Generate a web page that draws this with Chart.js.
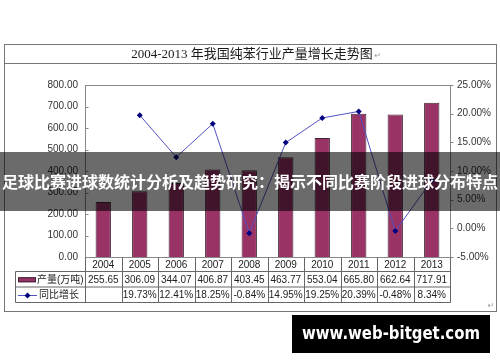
<!DOCTYPE html>
<html lang="zh">
<head>
<meta charset="UTF-8">
<title>2004-2013 年我国纯苯行业产量增长走势图</title>
<script src="https://cdn.jsdelivr.net/npm/chart.js@4.4.1/dist/chart.umd.min.js"></script>
<style>
  html, body { margin: 0; padding: 0; background: #fff; }
  #wrap { width: 500px; height: 362px; }
</style>
</head>
<body>
<div id="wrap"><canvas id="chart" width="500" height="362"></canvas></div>
<script>
// data
const years = ['2004', '2005', '2006', '2007', '2008', '2009', '2010', '2011', '2012', '2013'];
const output = [255.65, 306.09, 344.07, 406.87, 403.45, 463.77, 553.04, 665.80, 662.64, 717.91];
const growth = [null, 19.73, 12.41, 18.25, -0.84, 14.95, 19.25, 20.39, -0.48, 8.34];
const outputTicks = [0, 100, 200, 300, 400, 500, 600, 700, 800];
const growthTicks = [-5, 0, 5, 10, 15, 20, 25];

const title = '2004-2013 年我国纯苯行业产量增长走势图';
const overlayText = '足球比赛进球数统计分析及趋势研究：揭示不同比赛阶段进球分布特点';
const siteText = 'www.web-bitget.com';

const numFont = '10px "Liberation Sans", Arial, sans-serif';
const cjkFont = '10px "Liberation Sans", "Noto Sans CJK SC", sans-serif';

function line(ctx, x1, y1, x2, y2) {
    ctx.beginPath();
    ctx.moveTo(x1, y1);
    ctx.lineTo(x2, y2);
    ctx.stroke();
}

// frame, plot box, data table, overlay band and site badge
const extras = {
    id: 'extras',
    beforeDraw(chart) {
        const ctx = chart.ctx;
        ctx.save();
        ctx.fillStyle = '#fff';
        ctx.fillRect(0, 0, chart.width, chart.height);
        ctx.restore();
    },
    afterDraw(chart) {
        const ctx = chart.ctx;
        const area = chart.chartArea;
        const xs = chart.scales.x;
        const yl = chart.scales.y;
        const yr = chart.scales.y1;
        const L = Math.round(area.left) + 0.5;
        const R = Math.round(area.right) + 0.5;
        const T = Math.round(area.top) + 0.5;
        const B = Math.round(area.bottom) + 0.5;
        ctx.save();

        // plot box
        ctx.strokeStyle = '#888';
        ctx.lineWidth = 1;
        ctx.strokeRect(L, T, R - L, B - T);
        // tick marks
        outputTicks.forEach(v => {
            const y = Math.round(yl.getPixelForValue(v)) + 0.5;
            line(ctx, L, y, L + 3, y);
        });
        growthTicks.forEach(v => {
            const y = Math.round(yr.getPixelForValue(v)) + 0.5;
            line(ctx, R, y, R + 3, y);
        });

        // data table
        const colW = (xs.right - xs.left) / years.length;
        const r1 = B + 14, r2 = B + 29.5, r3 = B + 45;
        const tl = 15.5;
        ctx.strokeStyle = '#666';
        line(ctx, L, B, L, r1);
        line(ctx, tl, r1, R, r1);
        line(ctx, tl, r2, R, r2);
        line(ctx, tl, r3, R, r3);
        line(ctx, tl, r1, tl, r3);
        line(ctx, L, r1, L, r3);
        for (let i = 1; i <= years.length; i++) {
            const x = Math.round(xs.getPixelForValue(i - 1) + colW / 2) + 0.5;
            line(ctx, x, B, x, r3);
        }
        ctx.fillStyle = '#222';
        ctx.textAlign = 'center';
        ctx.textBaseline = 'middle';
        ctx.font = numFont;
        years.forEach((yr0, i) => {
            const cx = xs.getPixelForValue(i);
            ctx.fillText(yr0, cx, (B + r1) / 2 + 0.5);
            ctx.fillText(output[i].toFixed(2), cx, (r1 + r2) / 2 + 0.5);
            if (growth[i] !== null) ctx.fillText(growth[i].toFixed(2) + '%', cx, (r2 + r3) / 2 + 0.5);
        });
        // legend keys
        const bar = chart.data.datasets[1];
        const ln = chart.data.datasets[0];
        ctx.fillStyle = bar.backgroundColor;
        ctx.fillRect(18, (r1 + r2) / 2 - 2, 18, 5);
        ctx.strokeStyle = bar.borderColor;
        ctx.strokeRect(18.5, (r1 + r2) / 2 - 1.5, 17, 4);
        ctx.strokeStyle = ln.borderColor;
        const ly = Math.round((r2 + r3) / 2) + 0.5;
        line(ctx, 18, ly, 37, ly);
        ctx.fillStyle = ln.pointBackgroundColor;
        ctx.beginPath();
        ctx.moveTo(27.5, ly - 3); ctx.lineTo(30.5, ly); ctx.lineTo(27.5, ly + 3); ctx.lineTo(24.5, ly);
        ctx.closePath();
        ctx.fill();
        ctx.fillStyle = '#222';
        ctx.textAlign = 'left';
        ctx.font = cjkFont;
        ctx.fillText(bar.label, 37, (r1 + r2) / 2 + 0.5);
        ctx.fillText(ln.label, 39, (r2 + r3) / 2 + 0.5);

        // outer frame and title
        ctx.strokeStyle = '#777';
        ctx.strokeRect(4.5, 44.5, 492, 267);
        line(ctx, 4.5, 63.5, 496.5, 63.5);
        ctx.fillStyle = '#1a1a1a';
        ctx.textAlign = 'center';
        ctx.font = '13px "Liberation Serif", "Noto Sans CJK SC", serif';
        ctx.fillText(title, 252, 54.5);
        const tw = ctx.measureText(title).width;
        ctx.fillStyle = '#999';
        ctx.font = '8px "DejaVu Sans"';
        ctx.fillText('↵', 252 + tw / 2 + 5, 56);
        ctx.fillText('↵', 491, 306);

        // dark band with headline
        ctx.fillStyle = 'rgba(0, 0, 0, 0.58)';
        ctx.fillRect(0, 152, chart.width, 59);
        ctx.fillStyle = '#fff';
        ctx.font = 'bold 16px "Noto Sans CJK SC", sans-serif';
        ctx.fillText(overlayText, 250, 182, 498);

        // site badge
        ctx.fillStyle = '#000';
        ctx.fillRect(292, 315, 198, 38);
        ctx.fillStyle = '#fff';
        ctx.font = 'bold 17px "DejaVu Sans", sans-serif';
        ctx.fillText(siteText, 391, 334.5, 178);
        ctx.restore();
    }
};

const axisFont = { family: '"Liberation Sans", Arial, sans-serif', size: 10 };

new Chart(document.getElementById('chart').getContext('2d'), {
    data: {
        labels: years,
        datasets: [{
            type: 'line',
            label: '同比增长',
            data: growth,
            yAxisID: 'y1',
            borderColor: '#5252c4',
            borderWidth: 1,
            tension: 0,
            pointStyle: 'rectRot',
            pointRadius: 3,
            pointBackgroundColor: '#000080',
            pointBorderColor: '#000080',
            pointBorderWidth: 0,
            order: 0
        }, {
            type: 'bar',
            label: '产量(万吨)',
            data: output,
            yAxisID: 'y',
            backgroundColor: '#993366',
            borderColor: '#3f2534',
            borderWidth: 1,
            barPercentage: 0.42,
            categoryPercentage: 1,
            order: 1
        }]
    },
    options: {
        responsive: false,
        animation: false,
        devicePixelRatio: 1,
        layout: { padding: { top: 85, left: 0, right: 0, bottom: 0 } },
        plugins: { legend: { display: false }, tooltip: { enabled: false }, title: { display: false } },
        scales: {
            x: {
                grid: { display: false, drawTicks: false },
                border: { display: false },
                ticks: { display: false },
                afterFit(s) { s.height = 105; }
            },
            y: {
                position: 'left',
                min: 0,
                max: 800,
                afterBuildTicks(s) { s.ticks = outputTicks.map(v => ({ value: v })); },
                ticks: { callback: v => v.toFixed(2), padding: 7, color: '#333', font: axisFont },
                grid: { display: false, drawTicks: false },
                border: { display: false },
                afterFit(s) { s.width = 85; }
            },
            y1: {
                position: 'right',
                min: -5,
                max: 25,
                afterBuildTicks(s) { s.ticks = growthTicks.map(v => ({ value: v })); },
                ticks: { callback: v => v.toFixed(2) + '%', padding: 7, color: '#333', font: axisFont },
                grid: { display: false, drawTicks: false },
                border: { display: false },
                afterFit(s) { s.width = 50; }
            }
        }
    },
    plugins: [extras]
});
</script>
</body>
</html>
